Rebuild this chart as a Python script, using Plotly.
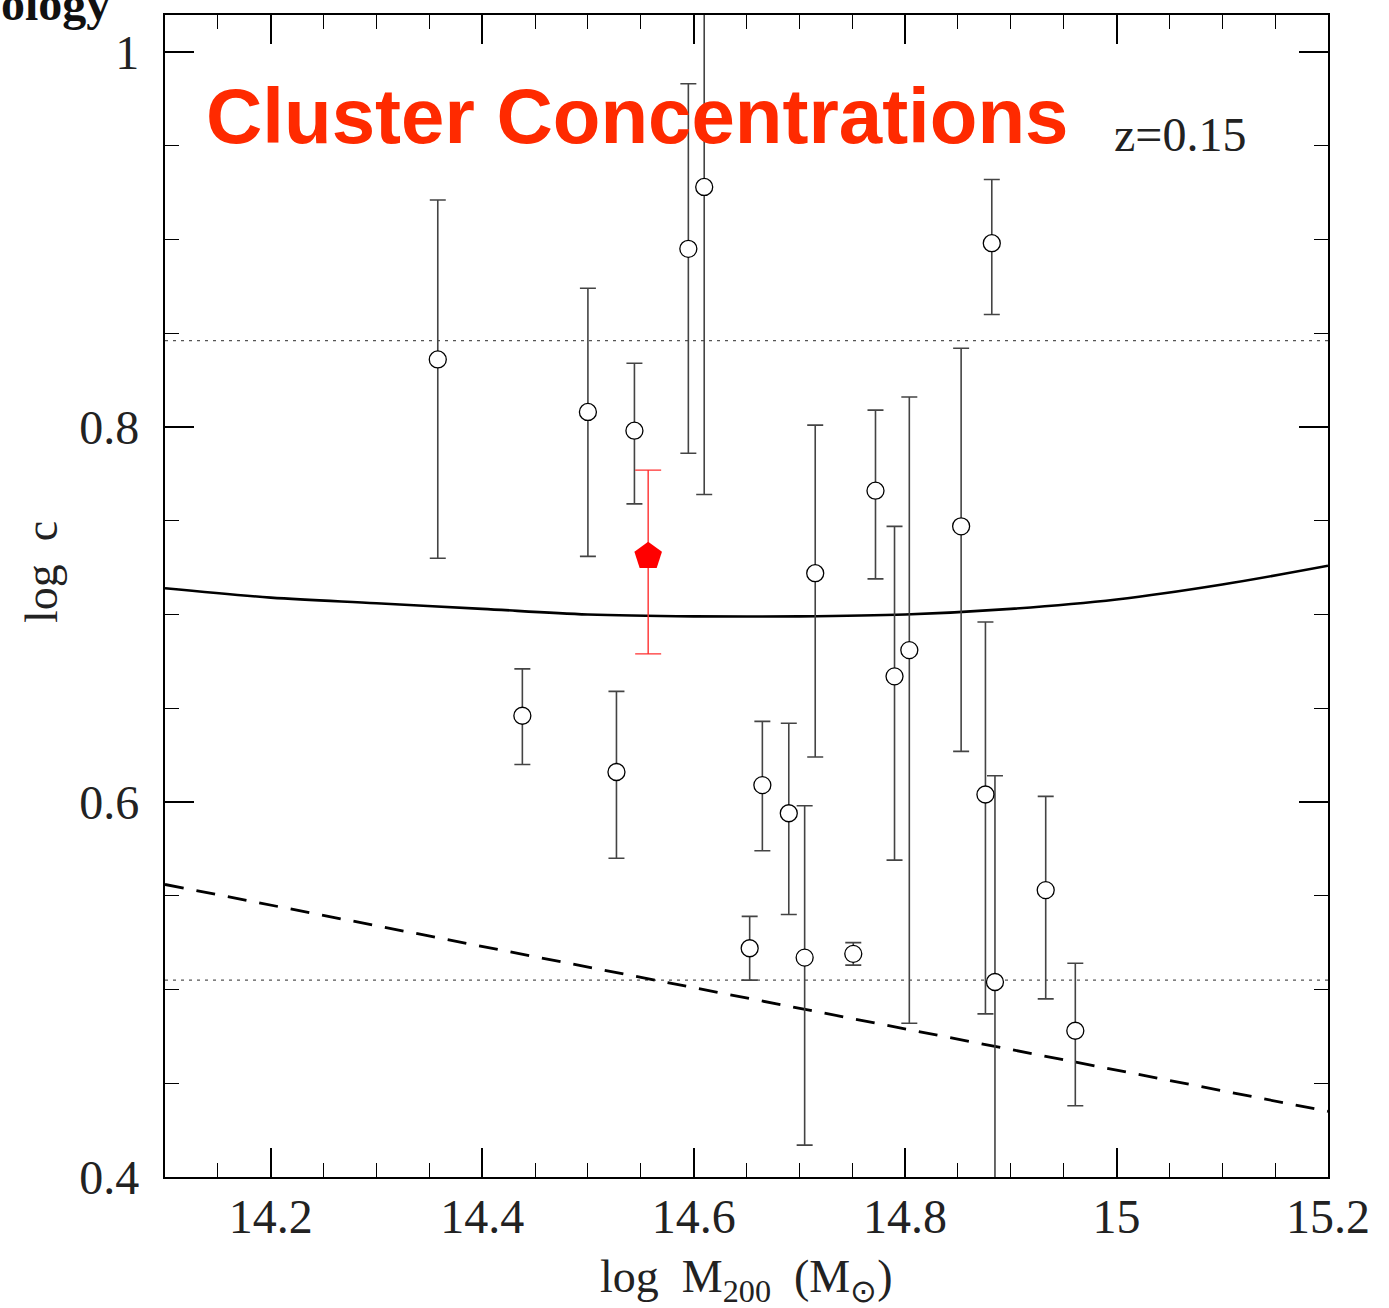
import plotly.graph_objects as go

# ---- data ----
mass = [14.358, 14.438, 14.500, 14.527, 14.544, 14.595, 14.610, 14.653, 14.665, 14.690, 14.705,
        14.715, 14.751, 14.772, 14.790, 14.804, 14.853, 14.876, 14.882, 14.885, 14.933, 14.961]
logc = [0.836, 0.646, 0.808, 0.616, 0.798, 0.895, 0.928, 0.522, 0.609, 0.594, 0.517,
        0.722, 0.519, 0.766, 0.667, 0.681, 0.747, 0.604, 0.898, 0.504, 0.553, 0.478]
logc_hi = [0.921, 0.671, 0.874, 0.659, 0.834, 0.983, 1.100, 0.539, 0.643, 0.642, 0.598,
           0.801, 0.525, 0.809, 0.747, 0.816, 0.842, 0.696, 0.932, 0.614, 0.603, 0.514]
logc_lo = [0.730, 0.620, 0.731, 0.570, 0.759, 0.786, 0.764, 0.505, 0.574, 0.540, 0.417,
           0.624, 0.513, 0.719, 0.569, 0.482, 0.627, 0.487, 0.860, 0.350, 0.495, 0.438]

red_mass = [14.557]
red_logc = [0.731]
red_hi = [0.777]
red_lo = [0.679]

curve_x = [14.1, 14.2, 14.3, 14.4, 14.5, 14.6, 14.7, 14.8, 14.9, 15.0, 15.1, 15.2]
curve_y = [0.714, 0.709, 0.706, 0.703, 0.700, 0.699, 0.699, 0.700, 0.703, 0.708, 0.716, 0.726]

dash_x = [14.1, 15.2]
dash_y = [0.556, 0.435]

dotted_levels = [0.846, 0.505]

x_ticks = [14.2, 14.4, 14.6, 14.8, 15.0, 15.2]
x_ticklabels = ["14.2", "14.4", "14.6", "14.8", "15", "15.2"]
y_ticks = [0.4, 0.6, 0.8, 1.0]
y_ticklabels = ["0.4", "0.6", "0.8", "1"]

XR = [14.1, 15.2]
YR = [0.4, 1.0197]

SERIF = "Liberation Serif"

fig = go.Figure()

for lev in dotted_levels:
    fig.add_trace(go.Scatter(x=XR, y=[lev, lev], mode="lines",
                             line=dict(color="#555555", width=1.2, dash="3px,5px"),
                             hoverinfo="skip", showlegend=False))

fig.add_trace(go.Scatter(x=curve_x, y=curve_y, mode="lines",
                         line=dict(color="black", width=2.6, shape="spline"),
                         showlegend=False))
fig.add_trace(go.Scatter(x=dash_x, y=dash_y, mode="lines",
                         line=dict(color="black", width=2.8, dash="19px,13px"),
                         showlegend=False))

fig.add_trace(go.Scatter(
    x=mass, y=logc, mode="markers",
    marker=dict(symbol="circle", size=17, color="white",
                line=dict(color="black", width=1.3)),
    error_y=dict(type="data", symmetric=False,
                 array=[h - v for h, v in zip(logc_hi, logc)],
                 arrayminus=[v - l for v, l in zip(logc, logc_lo)],
                 color="#444444", thickness=1.6, width=8),
    showlegend=False))

fig.add_trace(go.Scatter(
    x=red_mass, y=red_logc, mode="markers",
    marker=dict(symbol="pentagon", size=29, color="#ff0000",
                line=dict(color="#ff0000", width=0)),
    error_y=dict(type="data", symmetric=False,
                 array=[h - v for h, v in zip(red_hi, red_logc)],
                 arrayminus=[v - l for v, l in zip(red_logc, red_lo)],
                 color="#ff3030", thickness=1.4, width=13),
    showlegend=False))

axis_common = dict(showgrid=False, zeroline=False, showline=True, linecolor="black",
                   linewidth=2.4, mirror="ticks", ticks="inside", ticklen=29,
                   tickwidth=1.6, tickcolor="black",
                   tickfont=dict(family=SERIF, size=48, color="#222222"))

fig.update_xaxes(range=XR, tickmode="array", tickvals=x_ticks, ticktext=x_ticklabels,
                 minor=dict(ticks="inside", ticklen=14, tickwidth=1.4, tickcolor="black",
                            dtick=0.05, tick0=14.1, showgrid=False),
                 ticklabelstandoff=-4, **axis_common)
fig.update_yaxes(range=YR, tickmode="array", tickvals=y_ticks, ticktext=y_ticklabels,
                 minor=dict(ticks="inside", ticklen=14, tickwidth=1.4, tickcolor="black",
                            dtick=0.05, tick0=0.4, showgrid=False),
                 ticklabelstandoff=14, **axis_common)

W, H = 1389, 1308
L, R, T, B = 165, 1328, 15, 1177


def px(x):
    return (x - L) / (R - L)


def py(y):
    return (B - y) / (B - T)


annotations = [
    dict(text="<b>Cluster Concentrations</b>", x=px(637), y=py(116),
         font=dict(family="Liberation Sans", size=78, color="#ff2a00")),
    dict(text="z=0.15", x=px(1180), y=py(134),
         font=dict(family=SERIF, size=48, color="#222222")),
    dict(text="log\u00a0 M<sub>200</sub>\u00a0 (M<sub>\u2299</sub>)", x=px(746), y=py(1280),
         font=dict(family=SERIF, size=46, color="#222222")),
    dict(text="log\u00a0 c", x=px(41), y=py(572), textangle=-90,
         font=dict(family=SERIF, size=46, color="#222222")),
    dict(text="<b>ology</b>", x=px(112), y=py(4), xanchor="right", yanchor="middle",
         font=dict(family=SERIF, size=48, color="#111111")),
]
for a in annotations:
    a.setdefault("xanchor", "center")
    a.setdefault("yanchor", "middle")
    fig.add_annotation(xref="paper", yref="paper", showarrow=False, **a)

fig.update_layout(width=W, height=H, margin=dict(l=L, r=W - R, t=T, b=H - B),
                  paper_bgcolor="white", plot_bgcolor="white", showlegend=False)

fig.write_html("out.html")
